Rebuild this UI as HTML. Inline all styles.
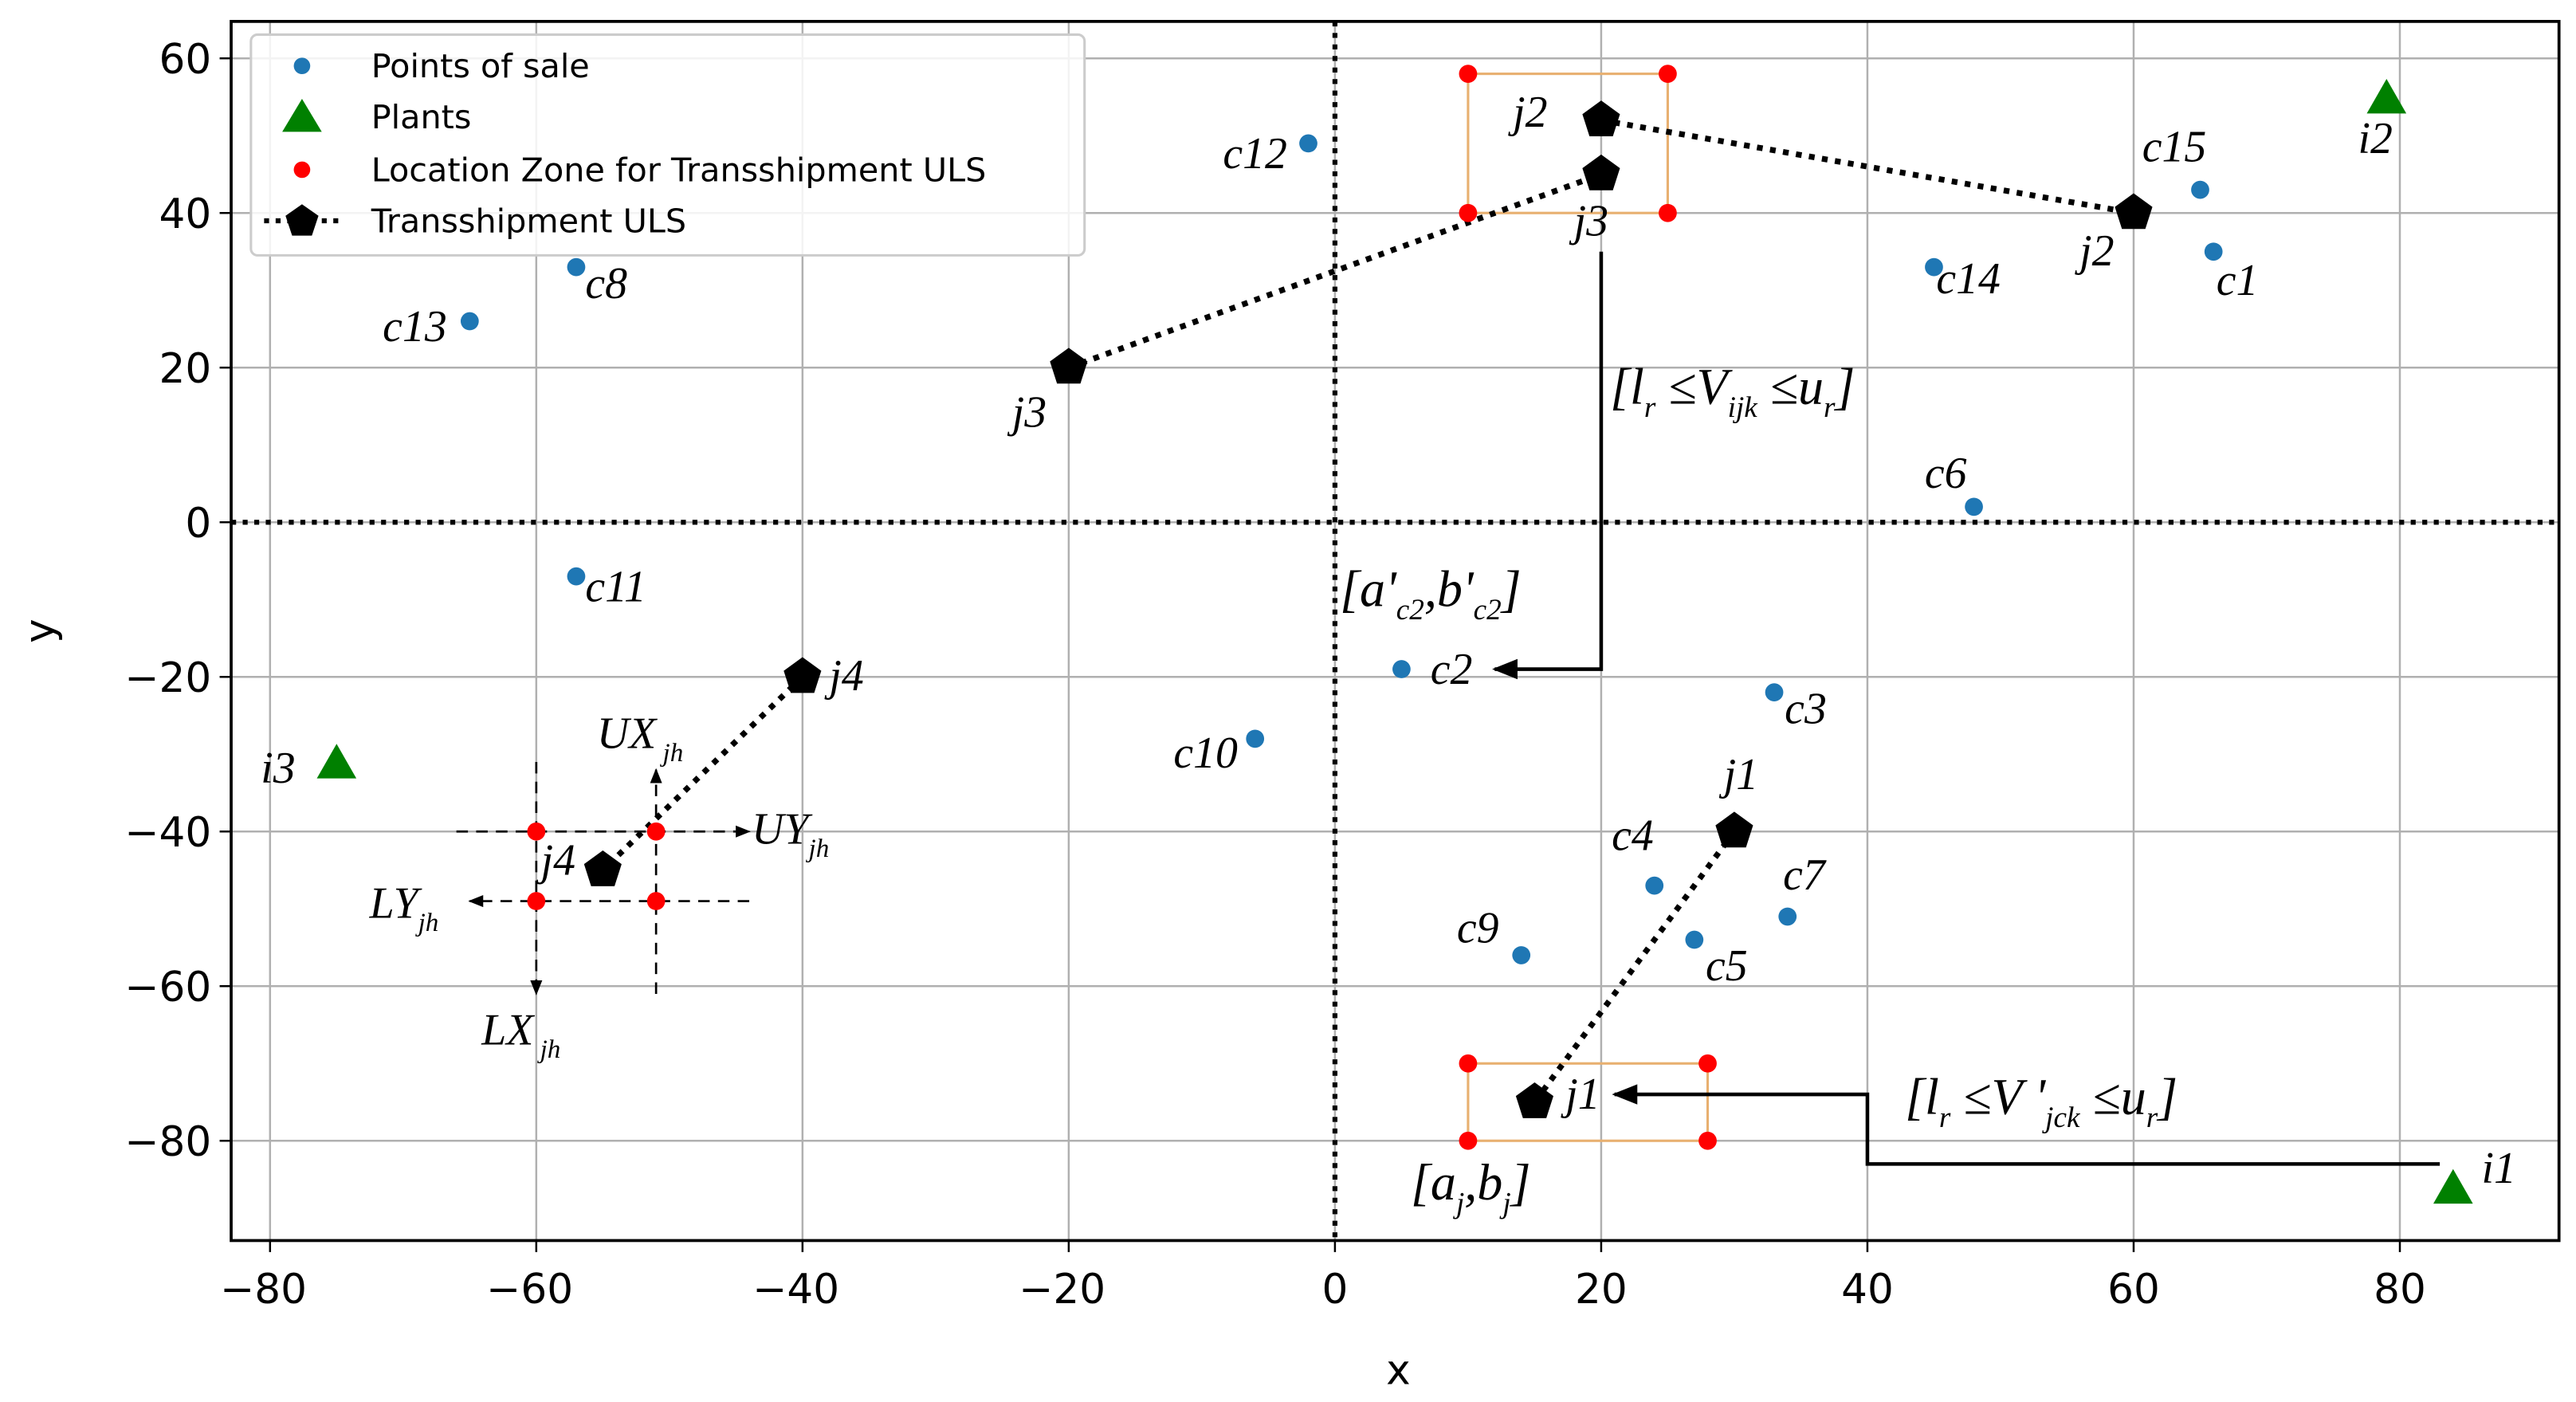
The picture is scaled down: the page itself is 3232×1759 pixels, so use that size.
<!DOCTYPE html>
<html><head><meta charset="utf-8">
<style>
html,body{margin:0;padding:0;background:#fff;}
svg{display:block;}
.tk{font-family:"DejaVu Sans","Liberation Sans",sans-serif;font-size:25px;fill:#000;}
.lg{font-family:"DejaVu Sans","Liberation Sans",sans-serif;font-size:20px;fill:#000;}
.lb{font-family:"Liberation Serif",serif;font-style:italic;font-size:27px;fill:#000;}
.mt{font-family:"Liberation Serif",serif;font-style:italic;font-size:31px;fill:#000;}
</style></head>
<body>
<svg id="chart" width="3232" height="1759" viewBox="0 0 1563 851" xmlns="http://www.w3.org/2000/svg">
<defs>
<marker id="ah" viewBox="0 0 10 10" refX="9" refY="5" markerWidth="7" markerHeight="7" orient="auto-start-reverse"><path d="M0,1 L10,5 L0,9 z" fill="#000"/></marker>
</defs>
<g id="grid"></g>
<g id="marks"></g>
<g id="ann">
<text class="mt" x="977" y="245">[<tspan>l</tspan><tspan font-size="18" dy="8">r</tspan><tspan dy="-8"> ≤V</tspan><tspan font-size="18" dy="8">ijk</tspan><tspan dy="-8"> ≤u</tspan><tspan font-size="18" dy="8">r</tspan><tspan dy="-8">]</tspan></text>
<text class="mt" x="813" y="368">[a'<tspan font-size="18" dy="8">c2</tspan><tspan dy="-8">,b'</tspan><tspan font-size="18" dy="8">c2</tspan><tspan dy="-8">]</tspan></text>
<text class="mt" x="1156" y="676">[<tspan>l</tspan><tspan font-size="18" dy="8">r</tspan><tspan dy="-8"> ≤V '</tspan><tspan font-size="18" dy="8">jck</tspan><tspan dy="-8"> ≤u</tspan><tspan font-size="18" dy="8">r</tspan><tspan dy="-8">]</tspan></text>
<text class="mt" x="856" y="728">[a<tspan font-size="18" dy="8">j</tspan><tspan dy="-8">,b</tspan><tspan font-size="18" dy="8">j</tspan><tspan dy="-8">]</tspan></text>
<text class="lb" x="362" y="454">UX<tspan font-size="16" dy="8"> jh</tspan></text>
<text class="lb" x="456" y="512">UY<tspan font-size="16" dy="8">jh</tspan></text>
<text class="lb" x="224" y="557">LY<tspan font-size="16" dy="8">jh</tspan></text>
<text class="lb" x="292" y="634">LX<tspan font-size="16" dy="8"> jh</tspan></text>
</g>
<g id="legend">
<rect x="152" y="21" width="506" height="134" rx="4" fill="#fff" fill-opacity="0.85" stroke="#ccc" stroke-width="1.5"/>
<circle cx="183" cy="40" r="5" fill="#1f77b4"/>
<text class="lg" x="225" y="47">Points of sale</text>
<path d="M171,80 L195,80 L183,60 z" fill="#008000"/>
<text class="lg" x="225" y="78">Plants</text>
<circle cx="183" cy="103" r="5" fill="#ff0000"/>
<text class="lg" x="225" y="110">Location Zone for Transshipment ULS</text>
<line x1="160" y1="134" x2="206" y2="134" stroke="#000" stroke-width="3" stroke-dasharray="3,4"/>
<path d="M183,124 L193,131 L189,143 L177,143 L173,131 z" fill="#000"/>
<text class="lg" x="225" y="141">Transshipment ULS</text>
</g>
</svg>
<script>
const xTicks = [-80,-60,-40,-20,0,20,40,60,80];
const yTicks = [-80,-60,-40,-20,0,20,40,60];
const saleNames = ["c1","c2","c3","c4","c5","c6","c7","c8","c9","c10","c11","c12","c13","c14","c15"];
const saleX = [66,5,33,24,27,48,34,-57,14,-6,-57,-2,-65,45,65];
const saleY = [35,-19,-22,-47,-54,2,-51,33,-56,-28,-7,49,26,33,43];
const plantNames = ["i1","i2","i3"];
const plantX = [84,79,-75];
const plantY = [-86,55,-31];
const zoneX = [10,25,10,25, 10,28,10,28, -60,-51,-60,-51];
const zoneY = [58,58,40,40, -70,-70,-80,-80, -40,-40,-49,-49];
const routeNames = ["j3","j2","j4","j1"];
const routeX1 = [-20,20,-40,30];
const routeY1 = [20,52,-20,-40];
const routeX2 = [20,60,-55,15];
const routeY2 = [45,40,-45,-75];

const L=140,R=1553,T=13,B=753;
const X=v=>810+v*8.08;
const Y=v=>317-v*4.693;
const NS="http://www.w3.org/2000/svg";
function mk(parent,tag,attrs){const e=document.createElementNS(NS,tag);for(const k in attrs)e.setAttribute(k,attrs[k]);parent.appendChild(e);return e;}
const grid=document.getElementById('grid'), marks=document.getElementById('marks'), svg=document.getElementById('chart');

xTicks.forEach(t=>{
  const g=mk(grid,'line',{x1:X(t),x2:X(t),y1:T,y2:B,stroke:'#b0b0b0','stroke-width':1.2});
  
  
  const tk=mk(grid,'line',{x1:X(t),x2:X(t),y1:B,y2:B+7,stroke:'#000','stroke-width':1.2});
  
  
  const tx=mk(grid,'text',{x:X(t)-(t<0?4:0),y:B+38,'text-anchor':'middle',class:'tk'});
  tx.textContent=(t<0?'\u2212'+(-t):t);
  
  
});
yTicks.forEach(t=>{
  const g=mk(grid,'line',{x1:L,x2:R,y1:Y(t),y2:Y(t),stroke:'#b0b0b0','stroke-width':1.2});
  
  
  const tk=mk(grid,'line',{x1:L-7,x2:L,y1:Y(t),y2:Y(t),stroke:'#000','stroke-width':1.2});
  
  
  const tx=mk(grid,'text',{x:L-12,y:Y(t)+9,'text-anchor':'end',class:'tk'});
  tx.textContent=(t<0?'\u2212'+(-t):t);
  
  
});
let fr=mk(grid,'rect',{x:L,y:T,width:R-L,height:B-T,fill:'none',stroke:'#000','stroke-width':1.8});


let xl=mk(grid,'text',{x:(L+R)/2+2,y:840,'text-anchor':'middle',class:'tk'});xl.textContent='x';


let yl=mk(grid,'text',{x:0,y:0,'text-anchor':'middle',class:'tk',transform:'translate(32,383) rotate(-90)'});yl.textContent='y';



let z1=mk(marks,'line',{x1:X(0),x2:X(0),y1:T,y2:B,stroke:'#000','stroke-width':3,'stroke-dasharray':'3,4'});


let z2=mk(marks,'line',{x1:L,x2:R,y1:Y(0),y2:Y(0),stroke:'#000','stroke-width':3,'stroke-dasharray':'3,4'});



for(let z=0;z<2;z++){
  const xs=zoneX.slice(z*4,z*4+4), ys=zoneY.slice(z*4,z*4+4);
  const x0=Math.min(...xs),x1=Math.max(...xs),y0=Math.min(...ys),y1=Math.max(...ys);
  const r=mk(marks,'rect',{x:X(x0),y:Y(y1),width:X(x1)-X(x0),height:Y(y0)-Y(y1),fill:'none',stroke:'#e8b070','stroke-width':1.5});
  
  
}
const dl=(x1,y1,x2,y2,name)=>{const e=mk(marks,'line',{x1,y1,x2,y2,stroke:'#000','stroke-width':1.3,'stroke-dasharray':'7,5','marker-end':'url(#ah)'});
  
  };
dl(X(-60),Y(-31),X(-60),Y(-61),'lx-arrow');
dl(X(-51),Y(-61),X(-51),Y(-32),'ux-arrow');
dl(X(-66),Y(-40),X(-44),Y(-40),'uy-arrow');
dl(X(-44),Y(-49),X(-65),Y(-49),'ly-arrow');

const pl=(pts,name)=>{const e=mk(marks,'polyline',{points:pts,fill:'none',stroke:'#000','stroke-width':2.2,'marker-end':'url(#ah)'});
  
  };
pl(`${X(20)},${Y(35)} ${X(20)},${Y(-19)} ${X(12)},${Y(-19)}`,'arrow-to-c2');
pl(`${X(83)},${Y(-83)} ${X(40)},${Y(-83)} ${X(40)},${Y(-74)} ${X(21)},${Y(-74)}`,'arrow-to-j1');

const pent=(cx,cy,r)=>{let p=[];for(let i=0;i<5;i++){const a=-Math.PI/2+i*2*Math.PI/5;p.push((cx+r*Math.cos(a)).toFixed(1)+','+(cy+r*Math.sin(a)).toFixed(1));}return p.join(' ');};
routeNames.forEach((n,i)=>{
  const l=mk(marks,'line',{x1:X(routeX1[i]),y1:Y(routeY1[i]),x2:X(routeX2[i]),y2:Y(routeY2[i]),stroke:'#000','stroke-width':3.5,'stroke-dasharray':'3.5,4.5'});
  
  
});
zoneX.forEach((v,i)=>{
  const c=mk(marks,'circle',{cx:X(v),cy:Y(zoneY[i]),r:5.5,fill:'#ff0000'});
  
  
});
routeNames.forEach((n,i)=>{
  [[routeX1[i],routeY1[i]],[routeX2[i],routeY2[i]]].forEach(p=>{
    const e=mk(marks,'polygon',{points:pent(X(p[0]),Y(p[1]),12),fill:'#000'});
    
    
  });
});
saleX.forEach((v,i)=>{
  const c=mk(marks,'circle',{cx:X(v),cy:Y(saleY[i]),r:5.5,fill:'#1f77b4'});
  
  
});
plantX.forEach((v,i)=>{
  const cx=X(v),cy=Y(plantY[i]);
  const t=mk(marks,'polygon',{points:`${cx-12},${cy+10} ${cx+12},${cy+10} ${cx},${cy-11}`,fill:'#008000'});
  
  
});
const labelNames=["c12","c8","c13","c11","c10","c2","c3","c4","c5","c7","c9","c6","c14","c15","c1","i2","i1","i3","j2","j3","j2","j3","j4","j4","j1","j1"];
const labelPos=[[742,102],[355,181],[232,207],[355,365],[712,466],[868,415],[1083,439],[978,516],[1035,595],[1082,540],[884,572],[1168,296],[1175,178],[1300,98],[1345,179],[1431,93],[1506,718],[158,475],[918,77],[955,143],[1262,161],[614,259],[503,419],[328,531],[1046,479],[950,673]];
labelNames.forEach((n,i)=>{
  const t=mk(svg,'text',{x:labelPos[i][0],y:labelPos[i][1],class:'lb'});
  t.textContent=n;
  
  
});
svg.appendChild(document.getElementById('legend'));
</script>
</body></html>
